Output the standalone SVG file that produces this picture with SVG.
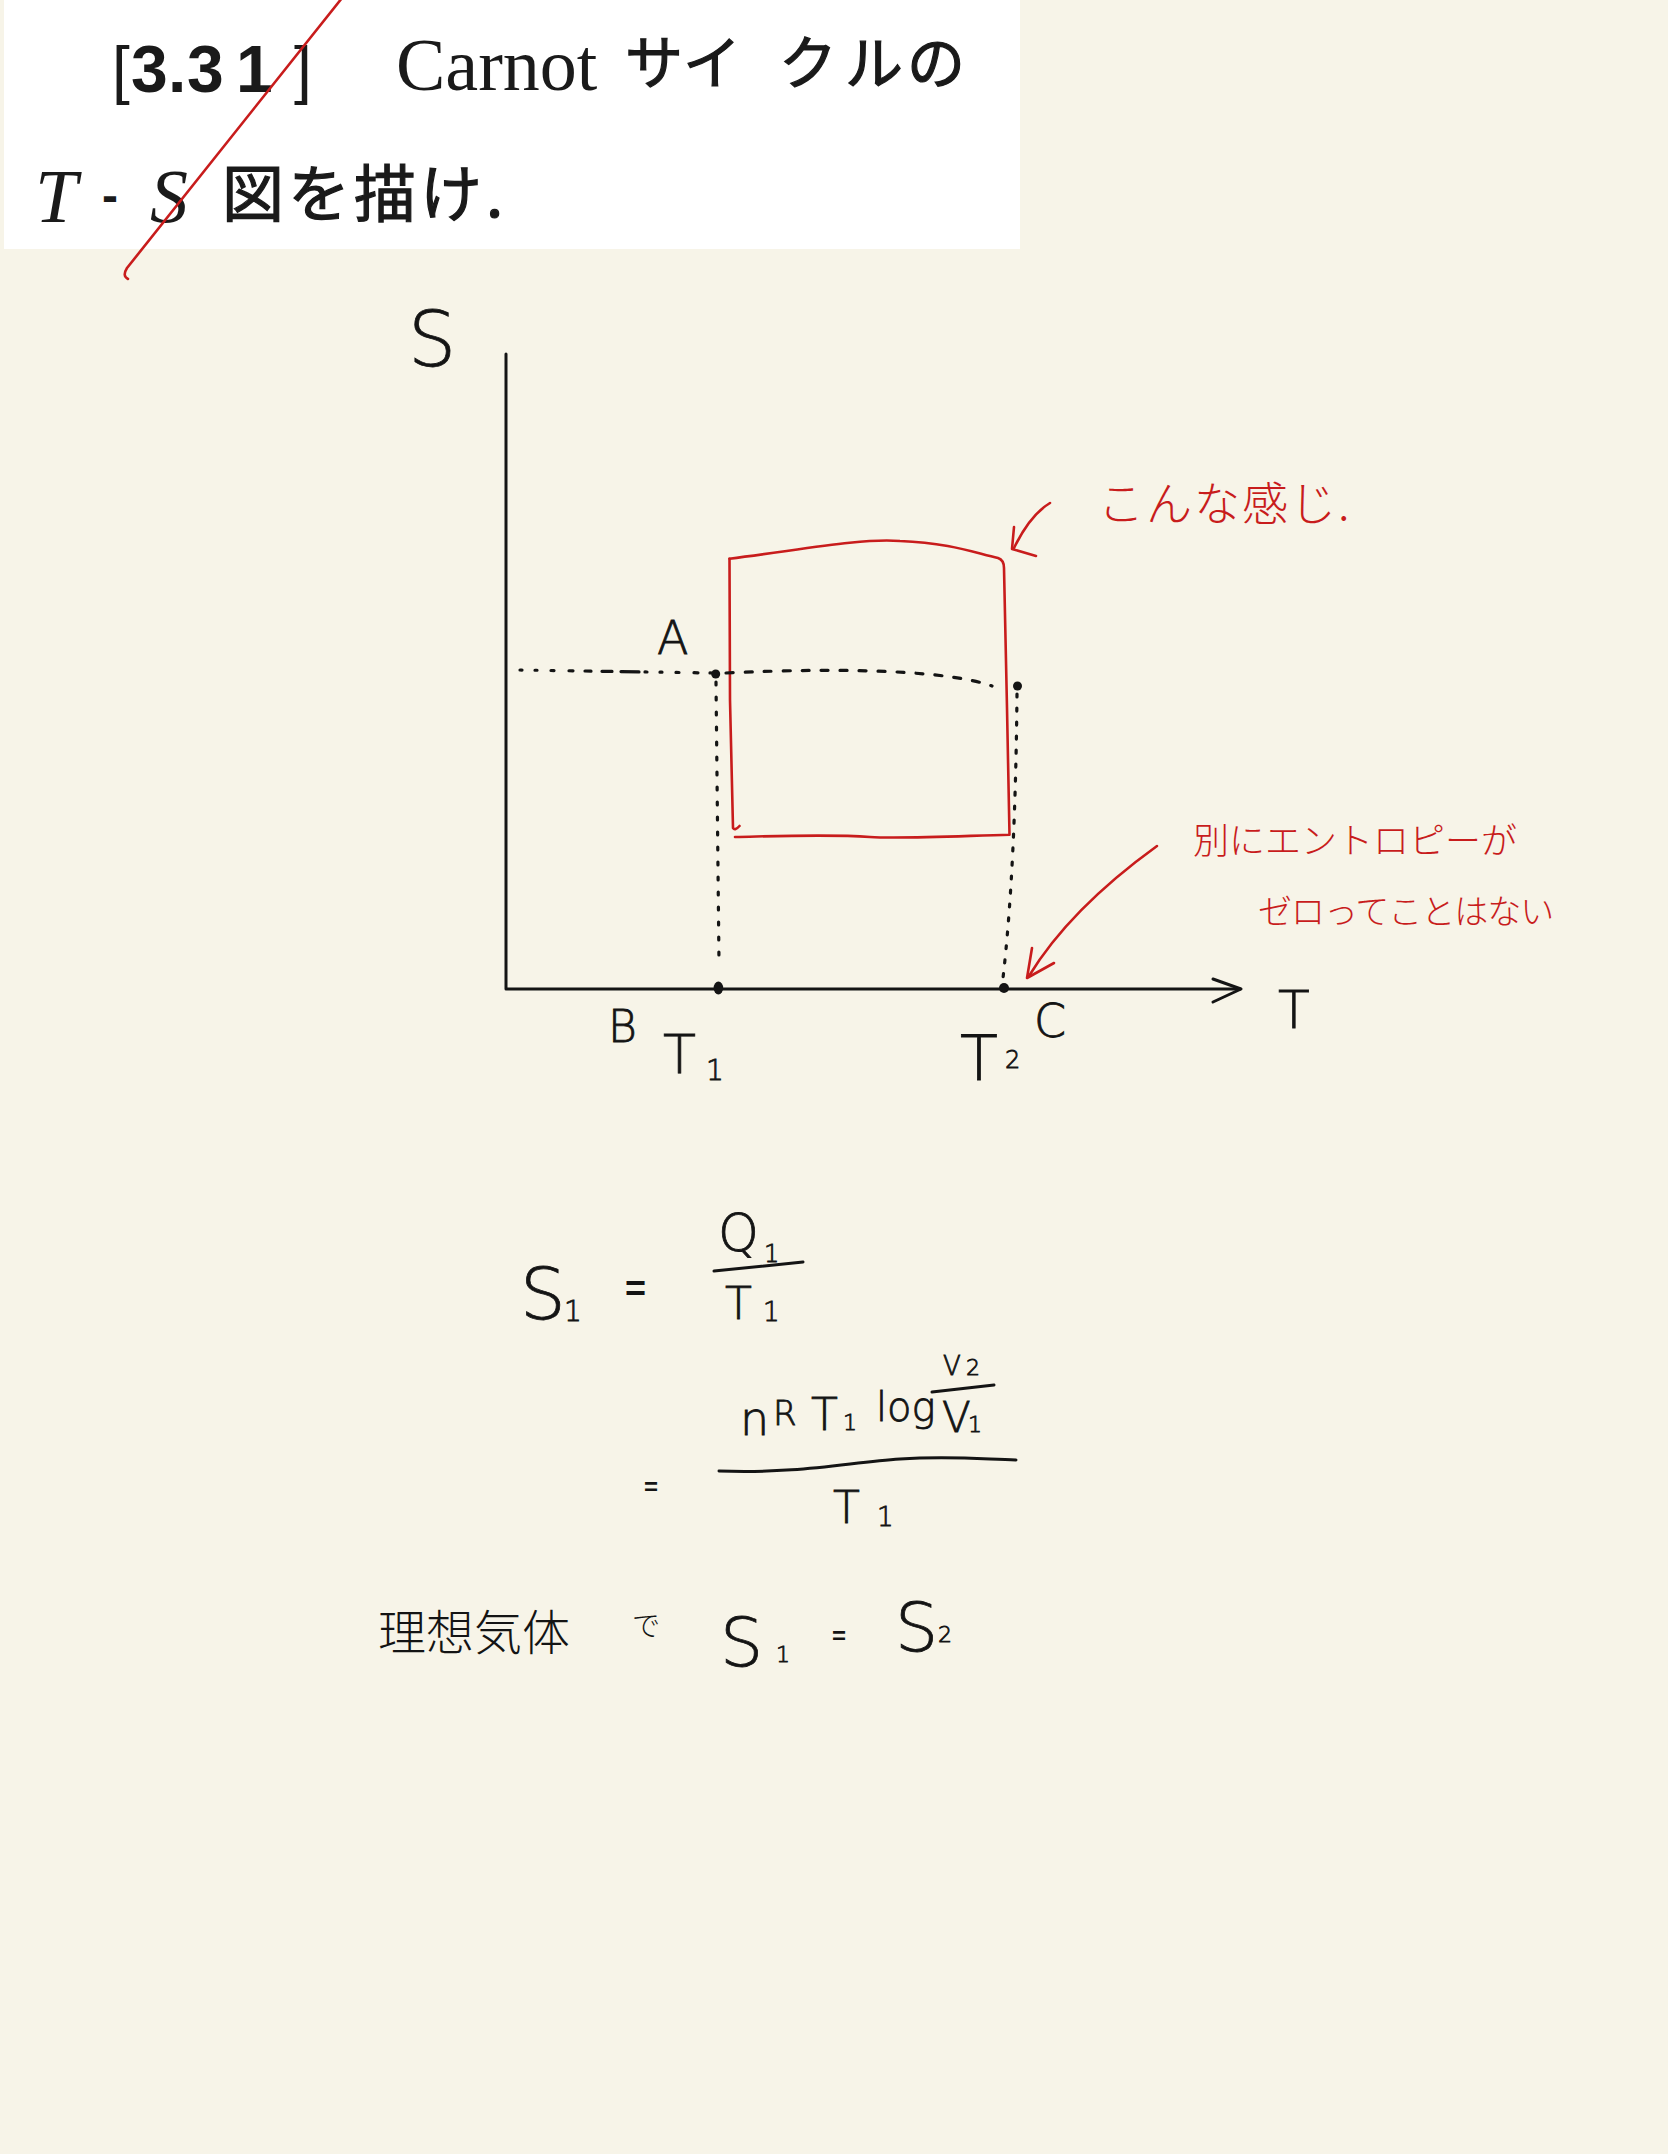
<svg xmlns="http://www.w3.org/2000/svg" width="1668" height="2154" viewBox="0 0 1668 2154">
<style>
.ink{fill:none;stroke:#141414;stroke-width:3;stroke-linecap:round;stroke-linejoin:round}
.red{fill:none;stroke:#c81c1c;stroke-width:2.6;stroke-linecap:round;stroke-linejoin:round}
.dot{fill:none;stroke:#141414;stroke-width:3.2;stroke-linecap:round}
.hw{font-family:"DejaVu Sans","Noto Sans",sans-serif;font-weight:200;fill:#141414;stroke:#141414;stroke-width:0.8}
.hwj{font-family:"Noto Sans CJK JP","Noto Sans CJK SC",sans-serif;font-weight:300;fill:#141414}
.hwr{font-family:"Noto Sans CJK JP","Noto Sans CJK SC",sans-serif;font-weight:300;fill:#c81c1c}
.eq{font-family:"Liberation Sans",Arial,sans-serif;font-weight:700;fill:#141414}
.pr{fill:#1a1a1a}
.prj{font-family:"Noto Sans CJK JP","Noto Sans CJK SC",sans-serif;fill:#1a1a1a;stroke:#1a1a1a;stroke-width:1.2}
</style>
<rect x="0" y="0" width="1668" height="2154" fill="#f7f4e8"/>
<rect x="4" y="0" width="1016" height="249" fill="#ffffff"/>

<g id="header">
  <text class="pr" y="92" font-family="'Liberation Sans',Arial,sans-serif" font-size="66"><tspan x="112" font-weight="400" font-size="64">[</tspan><tspan x="131" font-weight="700">3</tspan><tspan x="168" font-weight="700">.</tspan><tspan x="187" font-weight="700">3</tspan><tspan x="236" font-weight="700">1</tspan><tspan x="294" font-weight="400" font-size="64">]</tspan></text>
  <text class="pr" x="396" y="90" font-family="'Liberation Serif','Times New Roman',serif" font-size="74">Carnot</text>
  <text class="prj" y="84" x="625 683 779 845 907" font-size="58">サイクルの</text>
  <text class="pr" x="35" y="222" font-family="'Liberation Serif','Times New Roman',serif" font-style="italic" font-size="76">T</text>
  <text class="pr" x="102" y="212" font-family="'Liberation Sans',Arial,sans-serif" font-weight="700" font-size="48">-</text>
  <text class="pr" x="150" y="222" font-family="'Liberation Serif','Times New Roman',serif" font-style="italic" font-size="76">S</text>
  <text class="prj" x="222" y="217" font-size="62" letter-spacing="4">図を描け.</text>
</g>

<path id="strike" class="red" d="M342 -2 L127 268 Q122 276 128 279"/>

<g id="axes">
  <path class="ink" d="M506 354 L506 989 L1240 989"/>
  <path class="ink" d="M1213 979 L1241 989 L1213 1002"/>
  <text class="hw" x="408" y="366" font-size="76">S</text>
  <text class="hw" x="1278" y="1028" font-size="52">T</text>
</g>

<g id="cycle">
  <path class="red" d="M729.5 558.7 C800 550 860 538 900 541 C950 543 975 553 998 558 Q1004 560 1004 568 L1007 708 L1009.5 834.7 C960 836 900 839 870 837 C830 834 780 836 735 837"/>
  <path class="red" d="M729.5 558.7 L730 700 L733 828 Q735 831 739.5 826"/>
</g>

<g id="guides">
  <path class="dot" d="M520 670 L712 673" stroke-dasharray="2 13 2 14 3 15 4 12 6 11 10 9 18 6"/>
  <path class="dot" d="M726 673 C850 667 950 671 992 686" stroke-dasharray="7 12"/>
  <path class="dot" d="M716 682 L719 963" stroke-dasharray="3 12"/>
  <path class="dot" d="M1017 694 C1016 800 1012 900 1003 978" stroke-dasharray="3 11"/>
  <circle cx="715.7" cy="674" r="4.5" fill="#141414"/>
  <circle cx="1017.5" cy="686" r="4.5" fill="#141414"/>
  <ellipse cx="718.4" cy="988" rx="4.8" ry="6.5" fill="#141414"/>
  <circle cx="1004" cy="988" r="5" fill="#141414"/>
</g>

<g id="labels">
  <text class="hw" x="657" y="654" font-size="46">A</text>
  <text class="hw" x="608" y="1042" font-size="44">B</text>
  <text class="hw" x="663" y="1073" font-size="54">T</text>
  <text class="hw" x="706" y="1080" font-size="28">1</text>
  <text class="hw" x="960" y="1080" font-size="62">T</text>
  <text class="hw" x="1005" y="1068" font-size="24">2</text>
  <text class="hw" x="1034" y="1037" font-size="46">C</text>
</g>

<g id="connectors">
  <path class="red" d="M1050 503 Q1030 515 1014 548"/>
  <path class="red" d="M1014 527 L1012 549 L1036 556"/>
  <path class="red" d="M1157 846 C1110 880 1060 925 1029 976"/>
  <path class="red" d="M1032 948 L1027 978 L1054 963"/>
</g>

<g id="notes">
  <text class="hwr" x="1098" y="520" font-size="46" letter-spacing="2">こんな感じ.</text>
  <text class="hwr" x="1193" y="854" font-size="36">別にエントロピーが</text>
  <text class="hwr" x="1258" y="924" font-size="34" letter-spacing="-1">ゼロってことはない</text>
</g>

<g id="equations">
  <text class="hw" x="520" y="1319" font-size="72">S</text>
  <text class="hw" x="564" y="1321" font-size="28">1</text>
  <text class="eq" x="625" y="1301" font-size="36">=</text>
  <text class="hw" x="718" y="1251" font-size="52">Q</text>
  <text class="hw" x="764" y="1262" font-size="24">1</text>
  <path class="ink" d="M714 1271 L803 1262"/>
  <text class="hw" x="725" y="1319" font-size="44">T</text>
  <text class="hw" x="763" y="1321" font-size="26">1</text>

  <text class="hw" x="740" y="1435" font-size="46">n</text>
  <text class="hw" x="773" y="1425" font-size="34">R</text>
  <text class="hw" x="811" y="1430" font-size="44">T</text>
  <text class="hw" x="843" y="1430" font-size="22">1</text>
  <text class="hw" x="876" y="1421" font-size="40">log</text>
  <text class="hw" x="943" y="1375" font-size="26">V</text>
  <text class="hw" x="966" y="1375" font-size="22">2</text>
  <path class="ink" d="M932 1392 L994 1385"/>
  <text class="hw" x="942" y="1432" font-size="42">V</text>
  <text class="hw" x="968" y="1432" font-size="22">1</text>
  <path class="ink" d="M719 1471 C800 1474 850 1462 900 1459 S980 1459 1016 1460"/>
  <text class="eq" x="644" y="1495" font-size="24">=</text>
  <text class="hw" x="833" y="1523" font-size="44">T</text>
  <text class="hw" x="877" y="1526" font-size="26">1</text>

  <text class="hwj" x="378" y="1650" font-size="48">理想気体</text>
  <text class="hwj" x="632" y="1636" font-size="28">で</text>
  <text class="hw" x="720" y="1666" font-size="68">S</text>
  <text class="hw" x="776" y="1662" font-size="22">1</text>
  <text class="eq" x="832" y="1644" font-size="24">=</text>
  <text class="hw" x="895" y="1651" font-size="68">S</text>
  <text class="hw" x="938" y="1642" font-size="22">2</text>
</g>
</svg>
